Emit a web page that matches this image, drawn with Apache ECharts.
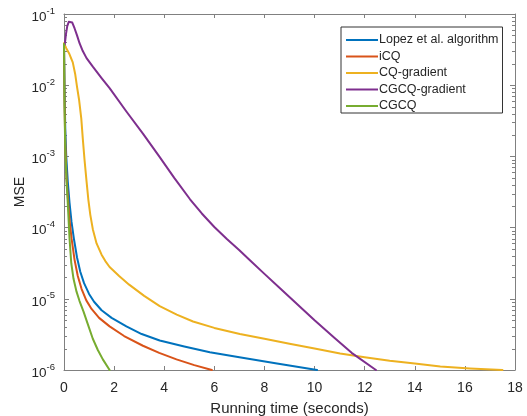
<!DOCTYPE html>
<html>
<head>
<meta charset="utf-8">
<script src="https://cdn.jsdelivr.net/npm/echarts@6/dist/echarts.min.js"></script>
<style>
  html, body { margin: 0; padding: 0; background: #fff; }
  #chart { width: 527px; height: 416px; }
</style>
</head>
<body>
<div id="chart"></div>
<script>
// Convergence of MSE versus running time for five reconstruction algorithms
const seriesNames = ['Lopez et al. algorithm', 'iCQ', 'CQ-gradient', 'CGCQ-gradient', 'CGCQ'];
const seriesColors = ['#0072BD', '#D95319', '#EDB120', '#7E2F8E', '#77AC30'];

const lopezTime = [0, 0.02, 0.05, 0.09, 0.15, 0.22, 0.3, 0.4, 0.52, 0.65, 0.8, 1.0, 1.2, 1.5, 1.9, 2.49, 3.1, 3.82, 4.8, 5.82, 7.0, 8.5, 10.1];
const lopezMSE  = [0.038, 0.01, 2.5e-3, 1.0e-3, 4.47e-4, 2.24e-4, 1.2e-4, 6.8e-5, 3.8e-5, 2.4e-5, 1.66e-5, 1.17e-5, 9.1e-6, 6.9e-6, 5.4e-6, 4.1e-6, 3.2e-6, 2.6e-6, 2.14e-6, 1.78e-6, 1.51e-6, 1.23e-6, 1.0e-6];

const icqTime = [0, 0.02, 0.05, 0.1, 0.16, 0.22, 0.3, 0.42, 0.55, 0.7, 0.89, 1.1, 1.4, 1.82, 2.4, 3.15, 3.8, 4.49, 5.2, 5.9];
const icqMSE  = [0.038, 6.3e-3, 1.58e-3, 5.0e-4, 2.5e-4, 1.29e-4, 7.1e-5, 3.55e-5, 2.09e-5, 1.38e-5, 9.5e-6, 7.2e-6, 5.4e-6, 4.1e-6, 3.0e-6, 2.19e-6, 1.74e-6, 1.41e-6, 1.17e-6, 1.0e-6];

const cqGradTime = [0, 0.09, 0.2, 0.35, 0.45, 0.52, 0.6, 0.69, 0.75, 0.82, 0.9, 0.97, 1.05, 1.15, 1.3, 1.5, 1.65, 1.82, 2.2, 2.6, 3.2, 3.82, 4.5, 5.15, 6.0, 7.02, 8.0, 9.0, 10.0, 11.02, 12.0, 13.0, 14.0, 15.02, 16.2, 17.5];
const cqGradMSE  = [0.0389, 0.0331, 0.0282, 0.0209, 0.0141, 9.5e-3, 6.3e-3, 3.39e-3, 1.78e-3, 8.9e-4, 4.47e-4, 2.5e-4, 1.51e-4, 9.5e-5, 6.0e-5, 4.17e-5, 3.39e-5, 2.8e-5, 2.09e-5, 1.58e-5, 1.1e-5, 7.9e-6, 6.0e-6, 4.8e-6, 3.9e-6, 3.2e-6, 2.75e-6, 2.34e-6, 2.0e-6, 1.71e-6, 1.51e-6, 1.35e-6, 1.23e-6, 1.12e-6, 1.05e-6, 1.0e-6];

const cgcqGradTime = [0.03, 0.08, 0.13, 0.19, 0.26, 0.33, 0.42, 0.52, 0.62, 0.75, 0.9, 1.15, 1.5, 1.82, 2.49, 3.15, 3.8, 4.4, 5.03, 5.5, 6.0, 6.5, 7.0, 7.42, 8.0, 8.62, 10.0, 10.8, 11.48, 12.45];
const cgcqGradMSE  = [0.0372, 0.0525, 0.0676, 0.0776, 0.0805, 0.0759, 0.0631, 0.0501, 0.0389, 0.0302, 0.024, 0.0182, 0.0126, 9.1e-3, 4.27e-3, 2.09e-3, 1.0e-3, 5.0e-4, 2.5e-4, 1.58e-4, 1.02e-4, 6.9e-5, 4.8e-5, 3.47e-5, 2.24e-5, 1.41e-5, 5.0e-6, 2.82e-6, 1.74e-6, 1.0e-6];

const cgcqTime = [0, 0.02, 0.05, 0.1, 0.15, 0.22, 0.29, 0.38, 0.5, 0.62, 0.78, 0.95, 1.15, 1.35, 1.55, 1.82];
const cgcqMSE  = [0.038, 5.0e-3, 1.26e-3, 4.47e-4, 2.24e-4, 7.1e-5, 3.16e-5, 1.91e-5, 1.26e-5, 9.3e-6, 6.6e-6, 4.4e-6, 2.75e-6, 1.91e-6, 1.41e-6, 1.0e-6];

const xRange = [0, 18];
const xStep = 2;
const yRange = [1e-6, 0.1];

const xLabel = 'Running time (seconds)';
const yLabel = 'MSE';

const allTimes = [lopezTime, icqTime, cqGradTime, cgcqGradTime, cgcqTime];
const allMSE = [lopezMSE, icqMSE, cqGradMSE, cgcqGradMSE, cgcqMSE];

const FONT = 'Liberation Sans, Arial, sans-serif';
const TEXT = '#262626';
const AXIS = '#808080';

const chart = echarts.init(document.getElementById('chart'), null, { renderer: 'canvas' });

const series = seriesNames.map((name, i) => ({
  name: name,
  type: 'line',
  data: allTimes[i].map((t, k) => [t, allMSE[i][k]]),
  symbol: 'none',
  smooth: false,
  lineStyle: { width: 2, color: seriesColors[i], join: 'round', cap: 'round' },
  itemStyle: { color: seriesColors[i] },
  clip: true,
  z: 3
}));

function powLabel(v) {
  const e = Math.round(Math.log10(v));
  return '{b|10}{s|' + e + '}';
}

const grid = { left: 64, right: 12, top: 14, bottom: 46, containLabel: false, outerBoundsMode: 'none' };

const option = {
  animation: false,
  backgroundColor: '#fff',
  textStyle: { fontFamily: FONT },
  grid: grid,
  legend: {
    data: seriesNames,
    orient: 'vertical',
    left: 341,
    top: 27,
    padding: [6, 4, 0, 5],
    icon: 'rect',
    itemWidth: 32,
    itemHeight: 2,
    itemGap: 2.5,
    backgroundColor: '#fff',
    borderColor: '#333',
    borderWidth: 1,
    borderRadius: 0,
    textStyle: { fontFamily: FONT, fontSize: 12.5, lineHeight: 14, color: TEXT, padding: [0, 0, 0, -4] }
  },
  xAxis: [{
    type: 'value',
    min: xRange[0], max: xRange[1], interval: xStep,
    name: xLabel,
    nameLocation: 'middle',
    nameGap: 31,
    nameMoveOverlap: false,
    nameTextStyle: { fontFamily: FONT, fontSize: 15, color: TEXT },
    axisLine: { show: true, onZero: false, lineStyle: { color: AXIS, width: 1 } },
    axisTick: { show: true, inside: true, length: 4, lineStyle: { color: AXIS } },
    axisLabel: { fontFamily: FONT, fontSize: 14, color: TEXT, margin: 11 },
    splitLine: { show: false }
  }, {
    type: 'value', position: 'top',
    min: xRange[0], max: xRange[1], interval: xStep,
    axisLine: { show: true, onZero: false, lineStyle: { color: AXIS, width: 1 } },
    axisTick: { show: true, inside: true, length: 4, lineStyle: { color: AXIS } },
    axisLabel: { show: false },
    splitLine: { show: false }
  }],
  yAxis: [{
    type: 'log',
    logBase: 10,
    min: yRange[0], max: yRange[1],
    name: yLabel,
    nameLocation: 'middle',
    nameGap: 37,
    nameMoveOverlap: false,
    nameRotate: 90,
    nameTextStyle: { fontFamily: FONT, fontSize: 14, color: TEXT },
    axisLine: { show: true, onZero: false, lineStyle: { color: AXIS, width: 1 } },
    axisTick: { show: true, inside: true, length: 5, lineStyle: { color: AXIS } },
    axisLabel: {
      formatter: powLabel,
      margin: 9,
      rich: {
        b: { fontFamily: FONT, fontSize: 13.5, color: TEXT, verticalAlign: 'bottom', lineHeight: 20 },
        s: { fontFamily: FONT, fontSize: 9.5, color: TEXT, verticalAlign: 'bottom', lineHeight: 20, padding: [0, 0, 8, 0] }
      }
    },
    splitLine: { show: false }
  }, {
    type: 'log',
    logBase: 10,
    position: 'right',
    min: yRange[0], max: yRange[1],
    axisLine: { show: true, onZero: false, lineStyle: { color: AXIS, width: 1 } },
    axisTick: { show: true, inside: true, length: 5, lineStyle: { color: AXIS } },
    axisLabel: { show: false },
    splitLine: { show: false }
  }],
  series: series
};

chart.setOption(option);

// Logarithmic minor ticks (2..9 within each decade) on the left and right edges
function drawMinorTicks() {
  const w = chart.getWidth();
  const xl = grid.left;
  const xr = w - grid.right;
  const elems = [];
  const eLo = Math.round(Math.log10(yRange[0]));
  const eHi = Math.round(Math.log10(yRange[1]));
  for (let e = eLo; e < eHi; e++) {
    for (let m = 2; m <= 9; m++) {
      const v = m * Math.pow(10, e);
      const y = Math.round(chart.convertToPixel({ yAxisIndex: 0 }, v)) + 0.5;
      elems.push({ type: 'line', shape: { x1: xl, y1: y, x2: xl + 3, y2: y }, style: { stroke: AXIS, lineWidth: 1 }, silent: true });
      elems.push({ type: 'line', shape: { x1: xr - 3, y1: y, x2: xr, y2: y }, style: { stroke: AXIS, lineWidth: 1 }, silent: true });
    }
  }
  chart.setOption({ graphic: elems });
}
drawMinorTicks();
</script>
</body>
</html>
